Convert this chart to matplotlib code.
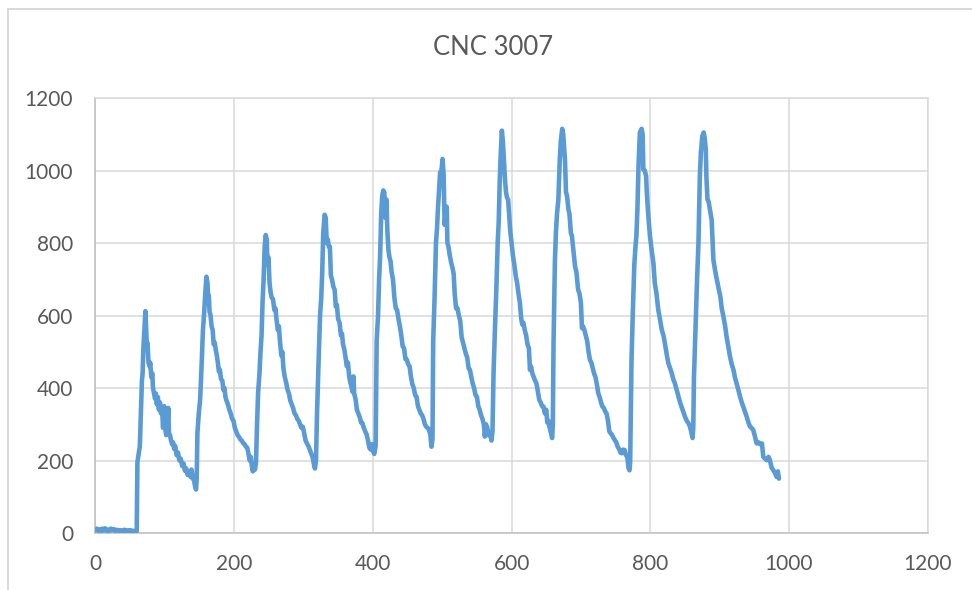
import matplotlib
matplotlib.use("Agg")
import matplotlib.pyplot as plt
from matplotlib.patches import Rectangle

plt.rcParams["font.family"] = ["Lato", "DejaVu Sans"]

# series values (x, y)
flat_x = [0, 2, 4, 6, 8, 10, 12, 14, 16, 18, 20, 22, 24, 26, 28, 30, 32, 34, 36, 38,
          40, 42, 44, 46, 48, 50, 52, 54, 56, 58, 59.5]
flat_y = [8, 12, 6, 10, 5, 12, 7, 13, 6, 9, 5, 12, 8, 11, 6, 9, 7, 8, 5, 7,
          6, 9, 5, 7, 6, 8, 5, 6, 4, 6, 5]

c1_x = [60.5, 62, 64, 65.5, 67, 68, 69, 70.5, 72, 73, 74, 75, 76.5, 78, 79, 80.5, 82, 83,
        84.5, 86, 87, 88.5, 90, 91.5, 93, 94.5, 96, 97.5, 99, 100.5, 102, 103.5, 105, 106,
        107.5, 109, 110.5, 112, 113.5, 115, 117, 119, 121, 123, 125, 127, 129, 131, 133,
        135, 137, 138.5, 140, 141.5, 143, 145, 146]
c1_y = [195, 215, 240, 330, 420, 440, 505, 560, 612, 570, 520, 525, 470, 460, 470, 430, 440, 400,
        385, 370, 385, 355, 375, 340, 360, 330, 345, 290, 350, 290, 270, 285, 345, 275,
        270, 255, 245, 250, 232, 240, 215, 222, 200, 205, 185, 192, 172, 178, 160,
        168, 155, 175, 150, 160, 135, 120, 150]

c2_x = [147, 149, 151, 153, 155, 156.5, 158, 160, 161.5, 162.5, 163.5, 164.5, 166, 167.5, 169,
        170.5, 172, 173.5, 175, 176.5, 178, 179.5, 181, 183, 184.5, 186, 187.5, 189, 191, 193,
        195, 197, 199, 201, 203, 205, 207, 209, 211, 213, 215, 217, 219, 221, 222.5, 224,
        225.5, 227, 228.5, 230, 231.5]
c2_y = [275, 330, 370, 460, 560, 600, 650, 707, 690, 650, 655, 610, 600, 570, 560,
        520, 525, 505, 490, 470, 445, 450, 425, 420, 395, 400, 375, 365, 355, 340,
        330, 315, 310, 290, 280, 270, 265, 258, 255, 248, 245, 238, 235, 215, 200, 210,
        185, 170, 190, 175, 195]

c3_x = [233, 234.5, 236.5, 238, 239.5, 241, 242.5, 244, 245.5, 247, 248, 249.5, 251, 252.5,
        254, 256, 258, 259.5, 261, 263, 264.5, 266, 268, 269.5, 271, 273, 275, 277, 279, 281,
        283, 285, 287, 289, 291, 293, 295, 297, 299, 301, 303, 305, 307, 309, 311, 313, 315,
        316.5, 318]
c3_y = [300, 385, 440, 500, 545, 640, 700, 790, 822, 810, 740, 760, 690, 665,
        650, 645, 615, 620, 590, 560, 570, 530, 490, 500, 455, 430, 415, 395, 385, 365,
        355, 345, 330, 325, 315, 310, 300, 290, 293, 275, 255, 247, 240, 230, 220, 210, 190,
        178, 200]

c4_x = [319.5, 321, 322.5, 324, 325.5, 327, 328.5, 330.5, 332, 333.5, 335, 336.5, 338, 339.5,
        341, 343, 345, 346.5, 348, 350, 352, 354, 355.5, 357, 359, 361, 362.5, 364, 366, 367.5,
        369, 370.5, 372, 373, 375, 377, 379, 381, 383, 385, 387, 389, 391, 393, 395, 397, 399,
        400.5, 402, 404]
c4_y = [330, 430, 520, 605, 645, 720, 830, 878, 870, 800, 810, 790, 790, 710,
        700, 680, 670, 625, 630, 590, 580, 545, 550, 520, 505, 480, 460, 470, 430, 415,
        405, 390, 432, 385, 370, 340, 330, 320, 305, 303, 290, 280, 272, 255, 235, 230, 245,
        225, 218, 240]

c5_x = [405.5, 407.5, 409, 410.5, 412, 413.5, 415, 416.5, 418, 419.5, 421, 422.5, 424, 425.5,
        427, 429, 431, 433, 435, 437, 439, 441, 443, 445, 447, 449, 451, 453, 455, 457, 459,
        461, 463, 465, 467, 469, 471, 473, 475, 477, 479, 481, 483, 484.5, 486]
c5_y = [530, 600, 700, 765, 880, 930, 945, 940, 870, 920, 830, 780, 760, 750,
        720, 700, 650, 620, 615, 590, 570, 545, 515, 510, 480, 478, 465, 460, 430, 410, 400,
        380, 376, 350, 340, 330, 325, 315, 300, 293, 290, 285, 270, 238, 260]

c6_x = [487, 489, 491, 492.5, 494, 495.5, 497, 499, 500.5, 502, 503.5, 505, 506.5, 507.5, 509,
        511, 513, 515, 516.5, 518, 520, 522, 524, 526, 528, 530, 532, 534, 536, 538, 540, 542,
        544, 546, 548, 550, 552, 554, 556, 558, 560, 561.5, 563, 565, 567, 569, 571, 572.5]
c6_y = [530, 650, 800, 840, 900, 950, 995, 1000, 1032, 990, 850, 880, 900, 800, 790,
        765, 745, 730, 715, 660, 620, 620, 600, 585, 540, 525, 510, 495, 485, 455, 450, 430,
        412, 400, 380, 376, 350, 340, 325, 315, 300, 266, 300, 290, 270, 275, 255, 280]

c7_x = [574, 576, 578, 580, 581.5, 583, 584.5, 586, 587.5, 589, 590.5, 592, 593.5, 595, 596.5,
        598, 600, 602, 604, 606, 608, 610, 612, 614, 615.5, 617, 619, 621, 623, 625, 626.5,
        628, 630, 632, 634, 636, 638, 640, 642, 644, 646, 648, 650, 651.5, 653, 655, 657,
        658.5, 659.5]
c7_y = [440, 560, 670, 800, 860, 975, 1050, 1110, 1080, 1030, 975, 940, 925, 920, 880,
        835, 800, 765, 740, 710, 690, 660, 635, 590, 575, 580, 560, 545, 520, 510, 450,
        460, 440, 430, 420, 412, 390, 367, 360, 350, 349, 330, 340, 305, 310, 290, 275,
        262, 300]

c8_x = [660.5, 662.5, 664, 665.5, 667.5, 669.5, 671, 673, 674.5, 676, 677, 678.5, 680, 682,
        683.5, 685.5, 687, 689, 691.5, 693.5, 696, 698, 700, 701.5, 703, 705, 707, 709, 711,
        713, 715, 717, 719, 721, 723, 725, 727, 729, 731, 733, 735, 737, 739, 741, 743, 745,
        747, 749, 751, 753, 755, 757, 759, 761, 763, 765, 767, 768.5, 770, 771]
c8_y = [520, 750, 830, 880, 920, 1030, 1080, 1115, 1100, 1060, 1030, 940, 930, 893,
        880, 828, 820, 782, 736, 720, 671, 660, 634, 565, 570, 560, 545, 530, 500,
        478, 470, 455, 440, 430, 410, 386, 375, 360, 349, 345, 335, 330, 310, 280, 275, 270,
        262, 256, 250, 238, 232, 222, 220, 230, 229, 215, 210, 180, 173, 195]

c9_x = [773, 775, 777, 778.5, 780, 781.5, 783, 785, 787.5, 789, 790, 792, 794, 795, 797,
        799.5, 802, 804.5, 806.5, 809, 811.5, 814, 816.5, 819, 821, 823.5, 826, 828.5, 831,
        833, 835.5, 838, 840.5, 843, 845, 847.5, 850, 852.5, 855, 857, 859, 861, 862]
c9_y = [480, 620, 740, 785, 820, 895, 1010, 1105, 1115, 1100, 1003, 1000, 985, 940, 880,
        820, 780, 745, 690, 660, 616, 590, 561, 545, 524, 495, 469, 455, 441,
        425, 413, 395, 376, 360, 349, 335, 321, 310, 303, 295, 280, 262, 290]

c10_x = [863, 864.5, 866, 867.5, 869.5, 871.5, 873, 875, 877, 878.5, 880, 881, 882.5, 884,
         886, 888.5, 890, 891, 893, 895, 897, 899, 901, 903, 905.5, 908, 910, 912.5, 915,
         917.5, 920, 922, 924.5, 927, 929.5, 932, 934, 936.5, 939, 941.5, 944, 946, 948.5,
         951, 953.5, 956, 958.5, 961, 963, 965.5, 968, 970.5, 972.5, 975, 977.5, 980, 982,
         984, 985.5]
c10_y = [430, 520, 616, 700, 800, 985, 1050, 1095, 1105, 1090, 1059, 980, 920, 915,
         893, 864, 800, 754, 730, 708, 690, 670, 653, 620, 597, 570, 542, 515, 487,
         465, 450, 430, 413, 395, 376, 360, 349, 335, 321, 305, 293, 290, 284,
         265, 247, 250, 245, 247, 210, 205, 201, 210, 201, 180, 173, 165, 155,
         170, 150]

x_vals = flat_x + c1_x + c2_x + c3_x + c4_x + c5_x + c6_x + c7_x + c8_x + c9_x + c10_x
y_vals = flat_y + c1_y + c2_y + c3_y + c4_y + c5_y + c6_y + c7_y + c8_y + c9_y + c10_y

x_ticks = [0, 200, 400, 600, 800, 1000, 1200]
y_ticks = [0, 200, 400, 600, 800, 1000, 1200]

LINE = "#5B9BD5"
GRID = "#D9D9D9"
TEXT = "#595959"

fig = plt.figure(figsize=(9.72, 5.90), dpi=100)
ax = fig.add_axes([0.0982, 0.0966, 0.8562, 0.7373])

ax.plot(x_vals, y_vals, color=LINE, lw=3.3, solid_joinstyle="round",
        solid_capstyle="round", zorder=3)

ax.set_xlim(0, 1200)
ax.set_ylim(0, 1200)
ax.set_xticks(x_ticks)
ax.set_yticks(y_ticks)
ax.grid(True, color=GRID, lw=1.1, zorder=0)
ax.set_axisbelow(True)
ax.tick_params(length=0, labelsize=15, labelcolor=TEXT)
ax.tick_params(axis="y", pad=16)
ax.tick_params(axis="x", pad=15)
for side in ("top", "right"):
    ax.spines[side].set_color(GRID)
    ax.spines[side].set_linewidth(1.1)
for side in ("left", "bottom"):
    ax.spines[side].set_color("#BFBFBF")
    ax.spines[side].set_linewidth(1.1)

fig.text(493 / 972, 1 - 47.5 / 590, "CNC 3007", ha="center", va="center",
         fontsize=18.5, color=TEXT)

# chart-area border (runs off the right and bottom edges in the reference)
fig.add_artist(Rectangle((8 / 972, -0.1), 1.2, 1 - 9 / 590 + 0.1,
                         transform=fig.transFigure, fill=False,
                         edgecolor=GRID, lw=1.4))

fig.savefig("out.png", dpi=100)
